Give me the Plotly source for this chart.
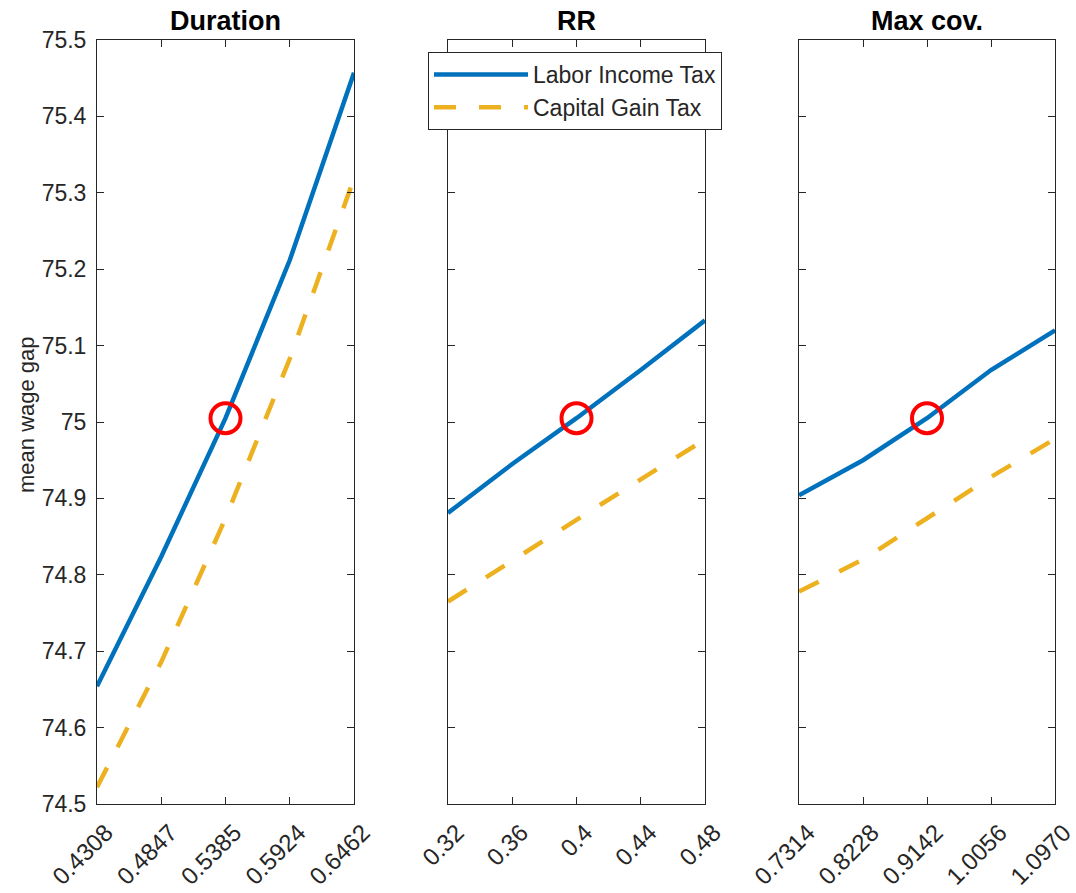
import plotly.graph_objects as go

# ---- data ----
panel_titles = ["Duration", "RR", "Max cov."]

dur_x = [0.4308, 0.4847, 0.5385, 0.5924, 0.6462]
dur_labor = [74.654, 74.824, 75.005, 75.212, 75.457]
dur_capital = [74.522, 74.686, 74.874, 75.083, 75.319]
dur_ticks = ["0.4308", "0.4847", "0.5385", "0.5924", "0.6462"]

rr_x = [0.32, 0.36, 0.40, 0.44, 0.48]
rr_labor = [74.881, 74.945, 75.005, 75.068, 75.133]
rr_capital = [74.765, 74.819, 74.872, 74.925, 74.977]
rr_ticks = ["0.32", "0.36", "0.4", "0.44", "0.48"]

mc_x = [0.7314, 0.8228, 0.9142, 1.0056, 1.0970]
mc_labor = [74.904, 74.950, 75.005, 75.068, 75.120]
mc_capital = [74.778, 74.820, 74.874, 74.928, 74.978]
mc_ticks = ["0.7314", "0.8228", "0.9142", "1.0056", "1.0970"]

baseline_index = 2  # calibrated point marked with a circle

y_vals = [74.5, 74.6, 74.7, 74.8, 74.9, 75.0, 75.1, 75.2, 75.3, 75.4, 75.5]
y_labels = ["74.5", "74.6", "74.7", "74.8", "74.9", "75", "75.1", "75.2", "75.3", "75.4", "75.5"]

series_names = ["Labor Income Tax", "Capital Gain Tax"]

# ---- style ----
W, H = 1076, 893
BLUE = "#0072BD"
YELLOW = "#EDB120"
AX = "#262626"
FONT = "Liberation Sans, Arial, sans-serif"

panels = [
    (dur_x, dur_labor, dur_capital, dur_ticks, (97, 354)),
    (rr_x, rr_labor, rr_capital, rr_ticks, (448, 705)),
    (mc_x, mc_labor, mc_capital, mc_ticks, (799, 1055)),
]
y_top_px, y_bot_px = 40, 804

fig = go.Figure()
layout = dict(
    width=W, height=H, autosize=False,
    margin=dict(l=0, r=0, t=0, b=0),
    paper_bgcolor="white", plot_bgcolor="white",
    font=dict(family=FONT, color=AX, size=23),
    annotations=[],
)

for i, (xs, lab, cap, ticks, (x0, x1)) in enumerate(panels):
    n = "" if i == 0 else str(i + 1)
    xa, ya = "x" + n, "y" + n
    fig.add_trace(go.Scatter(
        x=xs, y=lab, mode="lines", name=series_names[0],
        line=dict(color=BLUE, width=4.5),
        xaxis=xa, yaxis=ya, showlegend=(i == 0), legendrank=1,
    ))
    fig.add_trace(go.Scatter(
        x=xs, y=cap, mode="lines", name=series_names[1],
        line=dict(color=YELLOW, width=4.5, dash="22px,23px"),
        xaxis=xa, yaxis=ya, showlegend=(i == 0), legendrank=2,
    ))
    fig.add_trace(go.Scatter(
        x=[xs[baseline_index]], y=[lab[baseline_index]], mode="markers",
        marker=dict(symbol="circle-open", size=30, color="#FF0000",
                    line=dict(width=4, color="#FF0000")),
        xaxis=xa, yaxis=ya, showlegend=False, hoverinfo="skip",
    ))
    dom_x = [x0 / W, x1 / W]
    dom_y = [(H - y_bot_px) / H, (H - y_top_px) / H]
    layout["xaxis" + n] = dict(
        domain=dom_x, range=[xs[0], xs[-1]], anchor=ya,
        tickmode="array", tickvals=xs, ticktext=ticks, tickangle=-45,
        ticks="inside", ticklen=7, tickwidth=1, tickcolor=AX,
        showline=True, linecolor=AX, linewidth=1, mirror="ticks",
        showgrid=False, zeroline=False, automargin=False,
        tickfont=dict(size=24, color=AX, family=FONT),
        ticklabelstandoff=4, ticklabelshift=9, ticklabeloverflow="allow",
    )
    layout["yaxis" + n] = dict(
        domain=dom_y, range=[y_vals[0], y_vals[-1]], anchor=xa,
        tickmode="array", tickvals=y_vals, ticktext=y_labels,
        showticklabels=(i == 0),
        ticks="inside", ticklen=7, tickwidth=1, tickcolor=AX,
        showline=True, linecolor=AX, linewidth=1, mirror="ticks",
        showgrid=False, zeroline=False, automargin=False,
        tickfont=dict(size=23, color=AX, family=FONT),
        ticklabelstandoff=5,
    )
    layout["annotations"].append(dict(
        text="<b>" + panel_titles[i] + "</b>", xref="paper", yref="paper",
        x=(x0 + x1) / 2 / W, y=(H - 21) / H, xanchor="center", yanchor="middle",
        showarrow=False, font=dict(size=27, color="#000000", family=FONT),
    ))

layout["annotations"].append(dict(
    text="mean wage gap", xref="paper", yref="paper",
    x=26 / W, y=(H - 415) / H, xanchor="center", yanchor="middle",
    textangle=-90, showarrow=False, font=dict(size=22, color=AX, family=FONT),
))

layout["legend"] = dict(
    x=428 / W, y=(H - 52) / H, xanchor="left", yanchor="top",
    bgcolor="white", bordercolor=AX, borderwidth=1,
    font=dict(size=23, color=AX, family=FONT),
    itemwidth=94, tracegroupgap=0,
)

fig.update_layout(**layout)
fig.write_html("out.html", post_script="document.body.style.margin='0px';",
               config={"displayModeBar": False})
